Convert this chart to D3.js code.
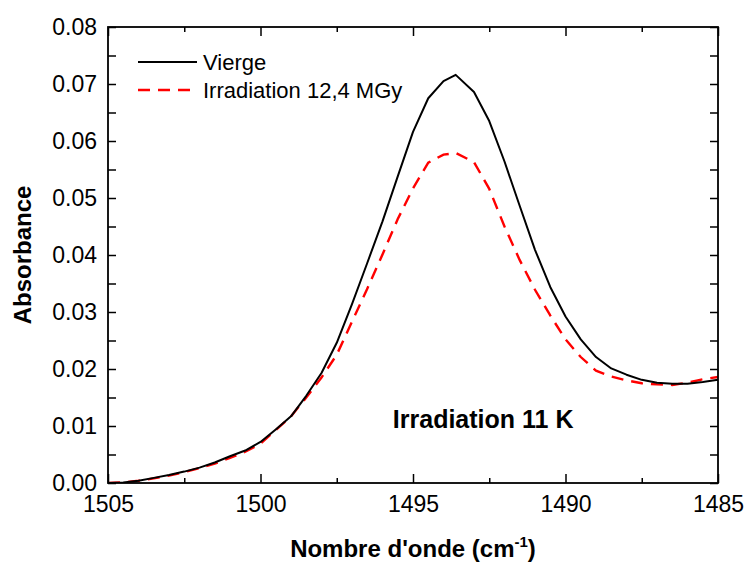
<!DOCTYPE html>
<html>
<head>
<meta charset="utf-8">
<script src="https://cdn.jsdelivr.net/npm/d3@7"></script>
<style>
  html, body { margin: 0; padding: 0; background: #fff; }
  svg { display: block; font-family: Arial, "Liberation Sans", sans-serif; }
</style>
</head>
<body>
<svg id="chart" width="747" height="563"></svg>
<script>
// ---- data ----
const wavenumbers = [1505, 1504.5, 1504, 1503.5, 1503, 1502.5, 1502, 1501.5, 1501, 1500.5,
  1500, 1499.5, 1499, 1498.5, 1498, 1497.5, 1497, 1496.5, 1496, 1495.5,
  1495, 1494.5, 1494, 1493.6, 1493, 1492.5, 1492, 1491.5, 1491, 1490.5,
  1490, 1489.5, 1489, 1488.5, 1488, 1487.5, 1487, 1486.5, 1486, 1485.5, 1485];
const vierge = [0.0000, 0.0001, 0.0004, 0.0009, 0.0014, 0.0020, 0.0027, 0.0036, 0.0047, 0.0057,
  0.0072, 0.0094, 0.0117, 0.0153, 0.0193, 0.0246, 0.0314, 0.0386, 0.0459, 0.0538,
  0.0616, 0.0675, 0.0705, 0.0716, 0.0686, 0.0635, 0.0564, 0.0486, 0.0409, 0.0344,
  0.0292, 0.0252, 0.0221, 0.0201, 0.0190, 0.0181, 0.0176, 0.0174, 0.0174, 0.0177, 0.0181];
const irradie = [0.0000, 0.0001, 0.0004, 0.0008, 0.0013, 0.0019, 0.0026, 0.0034, 0.0044, 0.0055,
  0.0069, 0.0093, 0.0117, 0.0150, 0.0185, 0.0225, 0.0283, 0.0341, 0.0401, 0.0463,
  0.0517, 0.0562, 0.0576, 0.0579, 0.0563, 0.0516, 0.0450, 0.0391, 0.0339, 0.0294,
  0.0252, 0.0221, 0.0197, 0.0187, 0.0180, 0.0175, 0.0173, 0.0172, 0.0176, 0.0182, 0.0186];
const seriesNames = ["Vierge", "Irradiation 12,4 MGy"];
const xMajorTicks = [1505, 1500, 1495, 1490, 1485];
const xMinorTicks = [1502.5, 1497.5, 1492.5, 1487.5];
const yMajorTicks = [0, 0.01, 0.02, 0.03, 0.04, 0.05, 0.06, 0.07, 0.08];
const yMinorTicks = [0.005, 0.015, 0.025, 0.035, 0.045, 0.055, 0.065, 0.075];
const xTitle = "Nombre d'onde (cm";
const yTitle = "Absorbance";
const annotation = "Irradiation 11 K";

// ---- layout ----
const W = 747, H = 563;
const L = 108, R = 718, T = 27, B = 483;
const svg = d3.select("#chart");

const x = d3.scaleLinear().domain([1505, 1485]).range([L, R]);
const y = d3.scaleLinear().domain([0, 0.08]).range([B, T]);

svg.append("defs").append("clipPath").attr("id", "clip")
  .append("rect").attr("x", L).attr("y", T).attr("width", R - L).attr("height", B - T);

// curves
const line = d3.line().x(d => x(d[0])).y(d => y(d[1])).curve(d3.curveLinear);
const g = svg.append("g").attr("clip-path", "url(#clip)");
g.append("path")
  .attr("d", line(wavenumbers.map((w, i) => [w, irradie[i]])))
  .attr("fill", "none").attr("stroke", "#ff0000").attr("stroke-width", 2.4)
  .attr("stroke-dasharray", "12,8");
g.append("path")
  .attr("d", line(wavenumbers.map((w, i) => [w, vierge[i]])))
  .attr("fill", "none").attr("stroke", "#000").attr("stroke-width", 2)
  .attr("stroke-linejoin", "round");

// axes
function styleAxis(sel) {
  sel.select(".domain").remove();
  sel.selectAll(".tick line").attr("stroke", "#000").attr("stroke-width", 1.5);
  sel.selectAll(".tick text").attr("fill", "#000").attr("font-size", 23)
    .attr("font-family", "Arial, 'Liberation Sans', sans-serif");
}
// bottom
svg.append("g").attr("transform", `translate(0,${B})`)
  .call(d3.axisBottom(x).tickValues(xMajorTicks).tickFormat(d3.format("d")).tickSize(-9).tickPadding(13))
  .call(styleAxis);
svg.append("g").attr("transform", `translate(0,${B})`)
  .call(d3.axisBottom(x).tickValues(xMinorTicks).tickFormat("").tickSize(-5))
  .call(styleAxis);
// top
svg.append("g").attr("transform", `translate(0,${T})`)
  .call(d3.axisTop(x).tickValues(xMajorTicks).tickFormat("").tickSize(-9))
  .call(styleAxis);
svg.append("g").attr("transform", `translate(0,${T})`)
  .call(d3.axisTop(x).tickValues(xMinorTicks).tickFormat("").tickSize(-5))
  .call(styleAxis);
// left
svg.append("g").attr("transform", `translate(${L},0)`)
  .call(d3.axisLeft(y).tickValues(yMajorTicks).tickFormat(d3.format(".2f")).tickSize(-8).tickPadding(11))
  .call(styleAxis);
svg.append("g").attr("transform", `translate(${L},0)`)
  .call(d3.axisLeft(y).tickValues(yMinorTicks).tickFormat("").tickSize(-8))
  .call(styleAxis);
// right
svg.append("g").attr("transform", `translate(${R},0)`)
  .call(d3.axisRight(y).tickValues(yMajorTicks.concat(yMinorTicks)).tickFormat("").tickSize(-8))
  .call(styleAxis);

// frame
svg.append("rect").attr("x", L).attr("y", T).attr("width", R - L).attr("height", B - T)
  .attr("fill", "none").attr("stroke", "#000").attr("stroke-width", 1.8);

// axis titles
const xt = svg.append("text").attr("x", (L + R) / 2).attr("y", 557)
  .attr("text-anchor", "middle").attr("font-size", 24).attr("font-weight", "bold");
xt.append("tspan").text(xTitle);
xt.append("tspan").attr("font-size", 15).attr("dy", -10).text("-1");
xt.append("tspan").attr("dy", 10).text(")");

svg.append("text").attr("transform", `translate(31,${(T + B) / 2}) rotate(-90)`)
  .attr("text-anchor", "middle").attr("font-size", 24).attr("font-weight", "bold").text(yTitle);

// annotation
svg.append("text").attr("x", x(1492.7)).attr("y", 428)
  .attr("text-anchor", "middle").attr("font-size", 25).attr("font-weight", "bold").text(annotation);

// legend
const lg = svg.append("g");
const legendY = [62, 90];
lg.append("line").attr("x1", 138).attr("x2", 197).attr("y1", legendY[0]).attr("y2", legendY[0])
  .attr("stroke", "#000").attr("stroke-width", 2);
lg.append("line").attr("x1", 138).attr("x2", 197).attr("y1", legendY[1]).attr("y2", legendY[1])
  .attr("stroke", "#ff0000").attr("stroke-width", 2.4).attr("stroke-dasharray", "12,8");
seriesNames.forEach((s, i) => {
  lg.append("text").attr("x", 203).attr("y", legendY[i] + 7.5)
    .attr("font-size", 22).text(s);
});
</script>
</body>
</html>
